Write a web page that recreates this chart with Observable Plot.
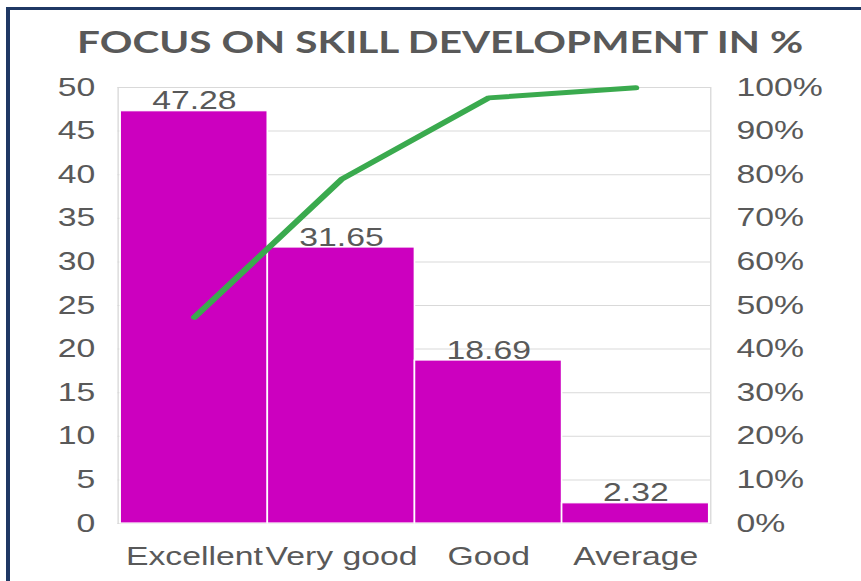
<!DOCTYPE html>
<html><head><meta charset="utf-8">
<script src="https://cdn.jsdelivr.net/npm/d3@7"></script>
<script src="https://cdn.jsdelivr.net/npm/@observablehq/plot@0.6"></script>
<style>
body{margin:0;background:#fff;}
#wrap{position:relative;width:861px;height:581px;overflow:hidden;background:#fff;}
#stage{position:absolute;left:0;top:0;width:638px;height:581px;transform:scaleX(1.35);transform-origin:0 0;}
#title{position:absolute;left:0;top:23px;width:652px;text-align:center;font-family:Lato,"Open Sans",sans-serif;font-weight:bold;font-size:30px;color:#595959;white-space:nowrap;}
#chart{position:absolute;left:0;top:0;}
.bl{position:absolute;left:6px;top:7px;width:4px;height:574px;background:#1F3864;}
.bt{position:absolute;left:6px;top:7px;width:855px;height:3px;background:#1F3864;}
</style></head>
<body>
<div id="wrap">
  <div id="stage">
    <div id="chart"></div>
    <div id="title">FOCUS ON SKILL DEVELOPMENT IN %</div>
  </div>
  <div class="bl"></div><div class="bt"></div>
</div>
<script>
const categories = ["Excellent", "Very good", "Good", "Average"];
const values = [47.28, 31.65, 18.69, 2.32];
const cumulativePercent = [47.28, 78.93, 97.62, 99.94];
const leftTicks = [0, 5, 10, 15, 20, 25, 30, 35, 40, 45, 50];
const rightTickLabels = ["0%", "10%", "20%", "30%", "40%", "50%", "60%", "70%", "80%", "90%", "100%"];

const data = categories.map((c, i) => ({cat: c, val: values[i], cum: cumulativePercent[i]}));
const rightLabel = new Map(leftTicks.map((t, i) => [t, rightTickLabels[i]]));

const plot = Plot.plot({
  width: 638,
  height: 581,
  marginTop: 87,
  marginBottom: 58,
  marginLeft: 87,
  marginRight: 112,
  x: {domain: categories, padding: 0, label: null},
  y: {domain: [0, 50], label: null},
  style: {fontFamily: "'Liberation Sans', Arial, sans-serif", fontSize: "25px", color: "#595959", background: "transparent", overflow: "visible"},
  marks: [
    Plot.gridY(leftTicks, {stroke: "#D9D9D9", strokeOpacity: 1}),
    Plot.frame({stroke: "#D9D9D9"}),
    Plot.barY(data, {x: "cat", y: "val", fill: "#CC00BF", stroke: "white", strokeWidth: 1.2}),
    Plot.line(data, {x: "cat", y: d => d.cum / 2, stroke: "#3AAA4E", strokeWidth: 5, strokeLinecap: "round", strokeLinejoin: "round"}),
    Plot.text(data, {x: "cat", y: "val", text: d => d.val.toFixed(2), lineAnchor: "bottom", dy: -2, fill: "#595959", fontSize: 25}),
    Plot.axisY(leftTicks, {anchor: "left", tickSize: 0, tickPadding: 17, fontSize: 25, label: null, fill: "#595959"}),
    Plot.axisY(leftTicks, {anchor: "right", tickSize: 0, tickPadding: 19, fontSize: 25, label: null, fill: "#595959", tickFormat: d => rightLabel.get(d)}),
    Plot.axisX({tickSize: 0, tickPadding: 24, fontSize: 25, label: null, fill: "#595959"})
  ]
});
document.getElementById("chart").appendChild(plot);
</script>
</body></html>
